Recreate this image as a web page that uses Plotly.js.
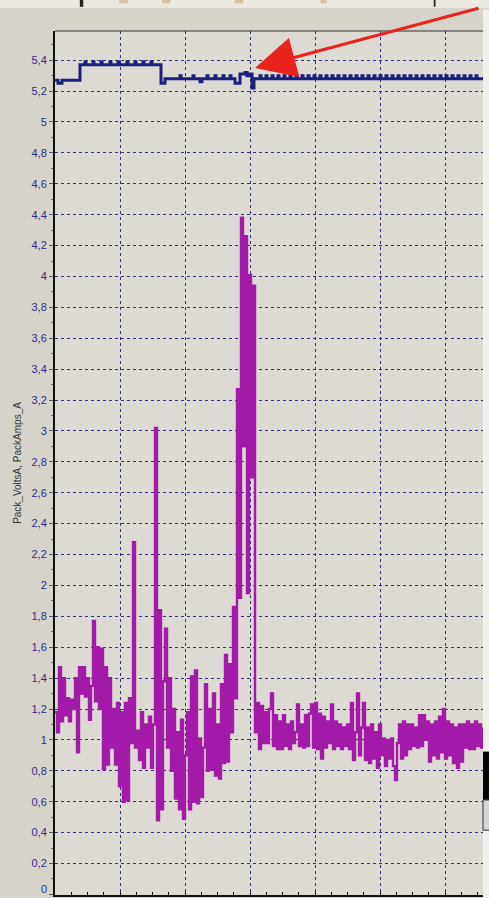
<!DOCTYPE html>
<html>
<head>
<meta charset="utf-8">
<script src="https://cdn.plot.ly/plotly-3.0.1.min.js"></script>
<style>html,body{margin:0;padding:0;background:#d6d3cb;}#chart{width:489px;height:898px;}</style>
</head>
<body>
<div id="chart"></div>
<script>
// Sample interval (time units per sample) for the current trace
var ampSampleInterval = 2;
// PackAmps_A readings
var packAmps = [
1.18,1.05,1.47,1.12,1.40,1.16,1.27,1.12,1.26,1.20,
1.40,0.92,1.47,1.30,1.47,1.28,1.40,1.13,1.35,1.77,
1.25,1.60,1.20,1.59,0.81,1.47,0.84,1.40,0.95,1.20,
0.84,1.24,0.70,1.18,0.60,1.24,0.61,1.27,0.98,2.28,
0.95,1.06,0.87,1.18,0.82,1.10,0.95,1.15,0.82,1.10,
3.02,0.48,1.84,0.55,1.38,1.72,0.95,1.40,0.80,1.20,
0.62,1.05,0.55,1.13,0.49,0.90,1.18,0.55,1.41,0.60,
1.45,0.59,1.01,0.63,0.95,1.36,0.80,1.20,0.81,1.30,
0.77,1.10,0.75,1.36,0.85,1.55,0.86,1.49,1.05,1.86,
1.27,3.27,1.92,4.38,2.90,4.26,1.95,4.01,2.70,3.94,
1.05,1.24,0.94,1.22,0.98,1.18,0.98,1.20,1.30,0.96,
1.16,0.94,1.12,0.94,1.16,0.96,1.10,0.94,1.12,0.98,
1.05,1.23,0.96,1.10,0.95,1.16,0.96,1.17,1.23,0.95,
1.24,0.94,1.17,0.88,1.15,0.95,1.12,0.98,1.23,0.94,
1.12,0.96,1.10,0.94,1.08,0.96,1.10,0.94,1.24,0.87,
1.05,1.30,0.90,1.08,1.24,0.87,1.08,0.85,1.10,0.88,
1.05,0.82,1.10,0.90,1.01,0.83,1.00,0.88,1.01,0.83,
0.74,0.98,1.10,0.88,1.12,0.90,1.10,0.94,1.10,0.96,
1.08,0.95,1.16,0.96,1.16,1.00,1.12,0.86,1.10,0.90,
1.12,0.88,1.15,0.92,1.20,0.88,1.12,0.90,1.10,0.85,
1.08,0.82,1.10,0.86,1.10,0.95,1.12,0.94,1.10,0.94,
1.12,0.96,1.10,0.95,1.08
];
// Pack_VoltsA readings (time, value) – step data
var voltTimes = [0,3,7,25,30,31,38,39,46,47,55,56,63,64,72,73,80,81,88,89,96,97,104,106,110,
  125,126,138,139,145,147,152,153,160,161,168,169,175,176,180,185,190,192,195,197,199,200,
  205,206,211,212,217,218,223,224,229,230,235,236,241,242,247,248,253,254,259,260,265,266,
  271,272,277,278,283,284,289,290,295,296,301,302,307,308,313,314,319,320,325,326,331,332,
  337,338,343,344,349,350,355,356,361,362,367,368,373,374,379,380,385,386,391,392,397,398,
  403,404,409,410,415,416,421,422,428];
var packVolts = [5.27,5.25,5.27,5.37,5.39,5.37,5.39,5.37,5.39,5.37,5.39,5.37,5.39,5.37,5.39,5.37,5.39,5.37,5.39,5.37,5.39,5.37,5.37,5.25,5.28,
  5.30,5.28,5.30,5.28,5.26,5.28,5.30,5.28,5.30,5.28,5.30,5.28,5.30,5.28,5.25,5.31,5.32,5.30,5.31,5.22,5.28,5.28,
  5.30,5.28,5.30,5.28,5.30,5.28,5.30,5.28,5.30,5.28,5.30,5.28,5.30,5.28,5.30,5.28,5.30,5.28,5.30,5.28,5.30,5.28,
  5.30,5.28,5.30,5.28,5.30,5.28,5.30,5.28,5.30,5.28,5.30,5.28,5.30,5.28,5.30,5.28,5.30,5.28,5.30,5.28,5.30,5.28,
  5.30,5.28,5.30,5.28,5.30,5.28,5.30,5.28,5.30,5.28,5.30,5.28,5.30,5.28,5.30,5.28,5.30,5.28,5.30,5.28,5.30,5.28,
  5.30,5.28,5.30,5.28,5.30,5.28,5.30,5.28,5.28];
var yAxisTitle = 'Pack_VoltsA, PackAmps_A';
var bottomTickLabel = '0';

var ampTimes = packAmps.map(function(_, i){ return i * ampSampleInterval; });

var navy = '#2d2f8f';
var tickFont = {family: 'Arial, Liberation Sans, sans-serif', size: 11, color: '#2c2c8c'};
var traces = [
  {x: ampTimes, y: packAmps, type: 'scatter', mode: 'lines', line: {color: '#a31aa9', width: 2.4, shape: 'hv'}, hoverinfo: 'skip', name: 'PackAmps_A'},
  {x: voltTimes, y: packVolts, type: 'scatter', mode: 'lines', line: {color: '#1b1f7e', width: 3, shape: 'hv'}, hoverinfo: 'skip', name: 'Pack_VoltsA'}
];

var gridStyle = {gridcolor: navy, griddash: 'dot', gridwidth: 1};
var layout = {
  width: 489, height: 898,
  margin: {l: 55, r: 6, t: 31, b: 3, pad: 0},
  paper_bgcolor: '#d6d3cb',
  plot_bgcolor: '#dddad3',
  separators: ',.',
  showlegend: false,
  font: {family: 'Arial, Liberation Sans, sans-serif'},
  xaxis: Object.assign({
    range: [0, 428], tick0: 0, dtick: 65, showticklabels: false, showgrid: true,
    zeroline: false, showline: true, linecolor: '#111', linewidth: 2,
    ticks: 'inside', ticklen: 3, tickcolor: '#111',
    minor: {dtick: 16.25, ticks: 'inside', ticklen: 3, tickcolor: '#111', showgrid: false}
  }, gridStyle),
  yaxis: Object.assign({
    range: [-0.004, 5.589], tick0: 0, dtick: 0.2, showgrid: true, zeroline: false,
    showline: true, linecolor: '#111', linewidth: 2,
    ticks: 'outside', ticklen: 4, tickcolor: '#555',
    minor: {dtick: 0.1, ticks: 'outside', ticklen: 2, tickcolor: '#777', showgrid: false},
    tickfont: tickFont,
    title: {text: yAxisTitle, font: {family: 'Arial, Liberation Sans, sans-serif', size: 10, color: '#333'}, standoff: 8}
  }, gridStyle),
  shapes: [
    {type: 'line', xref: 'paper', yref: 'paper', x0: 0, x1: 1, y0: 1, y1: 1, line: {color: '#333', width: 1}},
    {type: 'rect', xref: 'paper', yref: 'paper', x0: -0.2, x1: 1.1, y0: 1.0266, y1: 1.04, fillcolor: '#ebe8e1', line: {width: 0}},
    {type: 'rect', xref: 'paper', yref: 'paper', x0: 0.058, x1: 0.066, y0: 1.028, y1: 1.04, fillcolor: '#222', line: {width: 0}},
    {type: 'rect', xref: 'paper', yref: 'paper', x0: 0.885, x1: 0.889, y0: 1.028, y1: 1.04, fillcolor: '#222', line: {width: 0}},
    {type: 'rect', xref: 'paper', yref: 'paper', x0: 0.15, x1: 0.17, y0: 1.032, y1: 1.04, fillcolor: '#b58a55', opacity: 0.4, line: {width: 0}},
    {type: 'rect', xref: 'paper', yref: 'paper', x0: 0.25, x1: 0.27, y0: 1.032, y1: 1.04, fillcolor: '#b58a55', opacity: 0.4, line: {width: 0}},
    {type: 'rect', xref: 'paper', yref: 'paper', x0: 0.42, x1: 0.44, y0: 1.032, y1: 1.04, fillcolor: '#b58a55', opacity: 0.4, line: {width: 0}},
    {type: 'rect', xref: 'paper', yref: 'paper', x0: 0.62, x1: 0.635, y0: 1.032, y1: 1.04, fillcolor: '#b58a55', opacity: 0.4, line: {width: 0}},
    {type: 'rect', xref: 'paper', yref: 'paper', x0: 1, x1: 1.02, y0: -0.01, y1: 1.025, fillcolor: '#f1efeb', line: {width: 0}},
    {type: 'rect', xref: 'paper', yref: 'paper', x0: 1, x1: 1.02, y0: 0.110, y1: 0.166, fillcolor: '#050505', line: {width: 0}},
    {type: 'rect', xref: 'paper', yref: 'paper', x0: 1, x1: 1.02, y0: 0.075, y1: 0.110, fillcolor: '#d8d6d0', line: {color: '#333', width: 1}}
  ],
  annotations: [
    {x: 200, y: 5.35, xref: 'x', yref: 'y', text: '', showarrow: true, ax: 225, ay: -60,
     arrowcolor: '#e8231c', arrowwidth: 3, arrowhead: 2, arrowsize: 2.7},
    {x: 0, y: 0, xref: 'paper', yref: 'y', text: bottomTickLabel, showarrow: false,
     xanchor: 'right', yanchor: 'bottom', xshift: -6, yshift: -3, font: tickFont}
  ]
};
Plotly.newPlot('chart', traces, layout, {staticPlot: true, displayModeBar: false});
</script>
</body>
</html>
